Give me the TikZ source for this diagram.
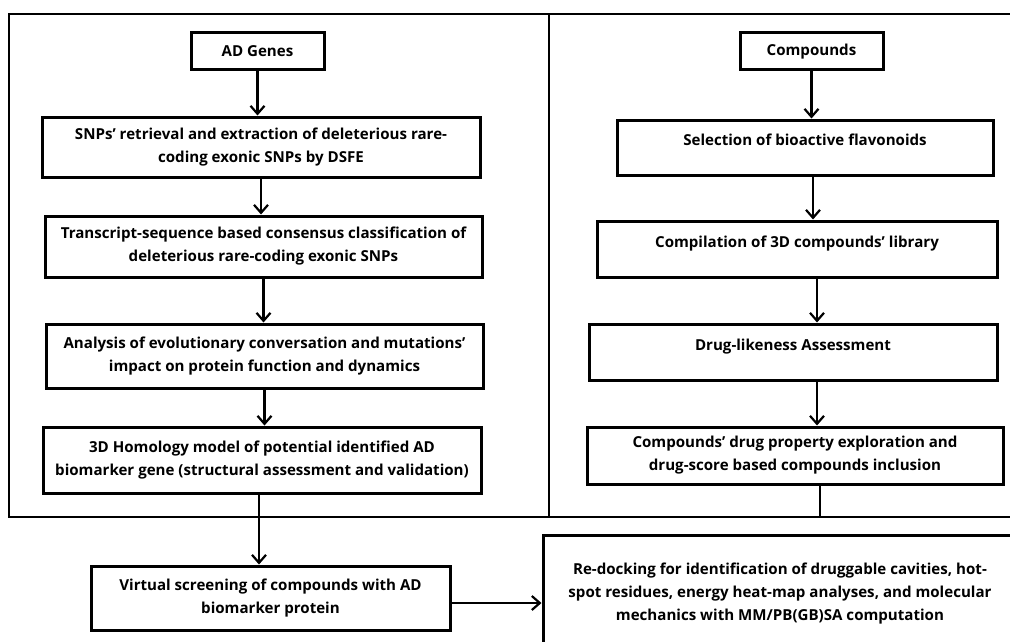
\documentclass[tikz,border=0pt]{standalone}
\usepackage{fontspec}
\setmainfont{Open Sans}
\usetikzlibrary{arrows.meta,positioning}
\tikzset{
  stepbox/.style={draw=black,line width=3pt,fill=white,inner sep=2pt,font=\bfseries\fontsize{15.1}{23}\selectfont,align=center},
  arr/.style={-{Straight Barb[length=8pt,width=14pt]},line width=2.2pt},
  frameline/.style={line width=2.2pt},
}
\begin{document}
\begin{tikzpicture}[x=1pt,y=-1pt]
  \clip (0,0) rectangle (1010,642);
  % outer frame and divider
  \coordinate (panelbase) at (9,517);
  \draw[frameline] (9,14) rectangle (1040,517);
  \draw[frameline] (549,14) -- (549,517);

  % genes column
  \node[stepbox,minimum width=133pt,minimum height=37pt] (adgenes) at (257.5,51.5) {AD Genes};
  \node[stepbox,minimum width=438pt,minimum height=60pt] (snps) at (261,147) {SNPs’ retrieval and extraction of deleterious rare-\\coding exonic SNPs by DSFE};
  \node[stepbox,minimum width=437pt,minimum height=61pt] (transcript) at (263.5,246.5) {Transcript-sequence based consensus classification of\\deleterious rare-coding exonic SNPs};
  \node[stepbox,minimum width=437pt,minimum height=64pt] (analysis) at (264.5,356) {Analysis of evolutionary conversation and mutations’\\impact on protein function and dynamics};
  \node[stepbox,minimum width=438pt,minimum height=66pt] (homology) at (262,460) {3D Homology model of potential identified AD\\biomarker gene (structural assessment and validation)};
  \draw[arr] (adgenes.south) -- (adgenes.south |- snps.north);
  \draw[arr] (snps.south) -- (snps.south |- transcript.north);
  \draw[arr] (transcript.south) -- (transcript.south |- analysis.north);
  \draw[arr] (analysis.south) -- (analysis.south |- homology.north);

  % compounds column
  \node[stepbox,minimum width=143pt,minimum height=37pt] (compounds) at (811.5,51.5) {Compounds};
  \node[stepbox,minimum width=376pt,minimum height=55pt] (selection) at (805,147.5) {Selection of bioactive flavonoids\\[-8pt]~};
  \node[stepbox,minimum width=400pt,minimum height=56pt] (library) at (797,249) {Compilation of 3D compounds’ library\\[-8pt]~};
  \node[stepbox,minimum width=408pt,minimum height=56pt] (druglike) at (793,352) {Drug-likeness Assessment\\[-8pt]~};
  \node[stepbox,minimum width=416pt,minimum height=57pt] (drugscore) at (795,455.5) {Compounds’ drug property exploration and\\drug-score based compounds inclusion};
  \draw[arr] (compounds.south) -- (compounds.south |- selection.north);
  \draw[arr] ([xshift=8pt]selection.south) -- ([xshift=8pt]selection.south |- library.north);
  \draw[arr] ([xshift=20pt]library.south) -- ([xshift=20pt]library.south |- druglike.north);
  \draw[arr] ([xshift=24pt]druglike.south) -- ([xshift=24pt]druglike.south |- drugscore.north);
  \draw[line width=2.2pt] ([xshift=25pt]drugscore.south) -- ([xshift=25pt]drugscore.south |- panelbase);

  % docking
  \node[stepbox,minimum width=359pt,minimum height=64pt] (virtual) at (270.5,598) {Virtual screening of compounds with AD\\biomarker protein};
  \node[stepbox,minimum width=474pt,minimum height=118pt] (redock) at (780,594) {Re-docking for identification of druggable cavities, hot-\\spot residues, energy heat-map analyses, and molecular\\mechanics with MM/PB(GB)SA computation};
  \draw[arr] ([xshift=-3pt]homology.south) -- ([xshift=-3pt]homology.south |- virtual.north);
  \draw[arr] ([yshift=-5pt]virtual.east) -- ([yshift=-5pt]virtual.east -| redock.west);
\end{tikzpicture}
\end{document}
